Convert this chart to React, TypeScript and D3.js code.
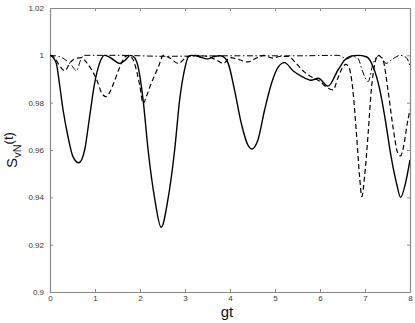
import React, { useEffect, useRef } from 'react';
import * as d3 from 'd3';

// tick values
const xTicks = [0, 1, 2, 3, 4, 5, 6, 7, 8];
const yTicks = [0.9, 0.92, 0.94, 0.96, 0.98, 1, 1.02];
const yTickLabels = ['0.9', '0.92', '0.94', '0.96', '0.98', '1', '1.02'];

// solid curve
const solidT = [0, 0.03, 0.14, 0.21, 0.29, 0.4, 0.51, 0.64, 0.77, 0.88, 0.99, 1.1, 1.21, 1.3, 1.42, 1.55, 1.67, 1.79, 1.88, 1.96, 2.07, 2.18, 2.33, 2.47, 2.62, 2.77, 2.88, 2.99, 3.08, 3.15, 3.3, 3.5, 3.65, 3.78, 3.88, 3.96, 4.1, 4.25, 4.4, 4.49, 4.62, 4.77, 4.92, 5.07, 5.21, 5.4, 5.6, 5.8, 5.96, 6.18, 6.4, 6.55, 6.7, 6.84, 7.03, 7.18, 7.33, 7.44, 7.58, 7.7, 7.79, 7.9, 8];
const solidV = [1, 0.9998, 0.9966, 0.988, 0.977, 0.9656, 0.9572, 0.9546, 0.96, 0.974, 0.988, 0.9966, 1, 0.9995, 0.998, 0.9966, 0.998, 1, 0.999, 0.995, 0.981, 0.96, 0.939, 0.9273, 0.939, 0.96, 0.981, 0.994, 0.9995, 1, 0.9995, 0.9985, 0.9995, 0.9998, 0.999, 0.9966, 0.9854, 0.9713, 0.962, 0.9604, 0.9642, 0.977, 0.988, 0.995, 0.9969, 0.9935, 0.991, 0.9895, 0.9903, 0.987, 0.9938, 0.998, 0.9997, 1, 0.9994, 0.9952, 0.9854, 0.974, 0.9572, 0.946, 0.94, 0.946, 0.9558];

// dashed curve
const dashT = [0, 0.1, 0.2, 0.33, 0.45, 0.55, 0.7, 0.81, 0.92, 1.04, 1.15, 1.25, 1.33, 1.41, 1.55, 1.67, 1.75, 1.85, 1.93, 2.0, 2.07, 2.14, 2.22, 2.41, 2.52, 2.65, 2.85, 3.05, 3.2, 3.5, 3.7, 3.85, 4.0, 4.15, 4.4, 4.6, 4.75, 4.95, 5.1, 5.3, 5.45, 5.65, 5.85, 6.0, 6.15, 6.29, 6.4, 6.51, 6.58, 6.66, 6.73, 6.81, 6.88, 6.93, 6.99, 7.07, 7.14, 7.22, 7.29, 7.4, 7.51, 7.62, 7.73, 7.79, 7.87, 7.94, 8];
const dashV = [1, 0.999, 0.996, 0.9935, 0.997, 0.9985, 0.999, 0.997, 0.994, 0.9896, 0.984, 0.9825, 0.9845, 0.988, 0.995, 0.9994, 1, 0.998, 0.993, 0.9867, 0.9797, 0.9825, 0.9867, 0.9952, 1, 0.999, 0.9966, 0.9995, 1, 0.9995, 0.998, 0.9966, 0.999, 0.9985, 0.9972, 0.999, 1, 0.9988, 0.9995, 0.9995, 0.997, 0.993, 0.9905, 0.989, 0.9865, 0.9854, 0.9905, 0.9952, 0.9962, 0.994, 0.9854, 0.967, 0.9487, 0.9403, 0.9487, 0.967, 0.9854, 0.9966, 1, 0.998, 0.9854, 0.97, 0.9586, 0.9575, 0.9628, 0.9713, 0.977];

// dash-dot curve
const dotT = [0, 0.2, 0.35, 0.47, 0.59, 0.68, 0.75, 1.5, 2.5, 4, 5.5, 6.4, 6.6, 6.72, 6.84, 6.95, 7.07, 7.18, 7.33, 7.47, 7.62, 7.78, 7.92, 8];
const dotV = [1, 0.9995, 0.998, 0.996, 0.9935, 0.998, 1, 1, 0.9996, 0.9998, 0.9998, 1, 0.9985, 0.9995, 0.9988, 0.993, 0.9889, 0.9966, 1, 0.9966, 0.9985, 1, 0.999, 0.9955];

const W = 415;
const H = 323;
const margin = { top: 8, right: 5, bottom: 31, left: 50 };

const App = () => {
  const ref = useRef<SVGSVGElement>(null);

  useEffect(() => {
    if (!ref.current) return;
    const svg = d3.select(ref.current);
    svg.selectAll('*').remove();

    const x = d3.scaleLinear().domain([0, 8]).range([margin.left, W - margin.right]);
    const y = d3.scaleLinear().domain([0.9, 1.02]).range([H - margin.bottom, margin.top]);

    const axisColor = '#8a8a8a';
    const textColor = '#3a3a3a';

    const styleAxis = (g: any) => {
      g.select('.domain').attr('stroke', axisColor).attr('stroke-width', 1.2);
      g.selectAll('.tick line').attr('stroke', axisColor);
      g.selectAll('.tick text')
        .attr('fill', textColor)
        .style('font-family', 'Liberation Sans, Arial, sans-serif')
        .style('font-size', '8px');
    };

    // bottom axis
    svg.append('g')
      .attr('transform', `translate(0,${H - margin.bottom})`)
      .call(d3.axisBottom(x).tickValues(xTicks).tickSize(-3).tickSizeOuter(0).tickPadding(3).tickFormat(d3.format('d')))
      .call(styleAxis);

    // top axis (ticks only)
    svg.append('g')
      .attr('transform', `translate(0,${margin.top})`)
      .call(d3.axisTop(x).tickValues(xTicks).tickSize(-3).tickSizeOuter(0).tickFormat(() => ''))
      .call(styleAxis);

    // left axis
    svg.append('g')
      .attr('transform', `translate(${margin.left},0)`)
      .call(d3.axisLeft(y).tickValues(yTicks).tickSize(-3).tickSizeOuter(0).tickPadding(6)
        .tickFormat((_d, i) => yTickLabels[i]))
      .call(styleAxis);

    // right axis (ticks only)
    svg.append('g')
      .attr('transform', `translate(${W - margin.right},0)`)
      .call(d3.axisRight(y).tickValues(yTicks).tickSize(-3).tickSizeOuter(0).tickFormat(() => ''))
      .call(styleAxis);

    const clip = svg.append('defs').append('clipPath').attr('id', 'plotclip');
    clip.append('rect')
      .attr('x', margin.left).attr('y', margin.top)
      .attr('width', W - margin.left - margin.right)
      .attr('height', H - margin.top - margin.bottom);

    const line = d3.line<[number, number]>()
      .x(d => x(d[0]))
      .y(d => y(d[1]))
      .curve(d3.curveMonotoneX);

    const series = [
      { t: dotT, v: dotV, dash: '6,2.5,1.5,2.5', w: 1 },
      { t: dashT, v: dashV, dash: '5,3', w: 1.2 },
      { t: solidT, v: solidV, dash: null, w: 1.4 },
    ];

    series.forEach(s => {
      const pts = s.t.map((t, i) => [t, s.v[i]] as [number, number]);
      svg.append('path')
        .datum(pts)
        .attr('clip-path', 'url(#plotclip)')
        .attr('fill', 'none')
        .attr('stroke', '#000')
        .attr('stroke-width', s.w)
        .attr('stroke-dasharray', s.dash)
        .attr('d', line);
    });

    // x label
    svg.append('text')
      .attr('x', 227)
      .attr('y', 317)
      .attr('text-anchor', 'middle')
      .style('font-family', 'Liberation Sans, Arial, sans-serif')
      .style('font-size', '15px')
      .attr('fill', '#111')
      .text('gt');

    // y label
    const yl = svg.append('text')
      .attr('transform', 'translate(17,150) rotate(-90)')
      .attr('text-anchor', 'middle')
      .style('font-family', 'Liberation Sans, Arial, sans-serif')
      .attr('fill', '#111');
    yl.append('tspan').style('font-size', '15px').text('S');
    yl.append('tspan').style('font-size', '11px').attr('dy', 4).text('vN');
    yl.append('tspan').style('font-size', '13px').attr('dy', -8).text('(t)');
  }, []);

  return (
    <svg ref={ref} width={W} height={H} style={{ position: 'absolute', left: 0, top: 0, background: '#fff' }} />
  );
};

export default App;
